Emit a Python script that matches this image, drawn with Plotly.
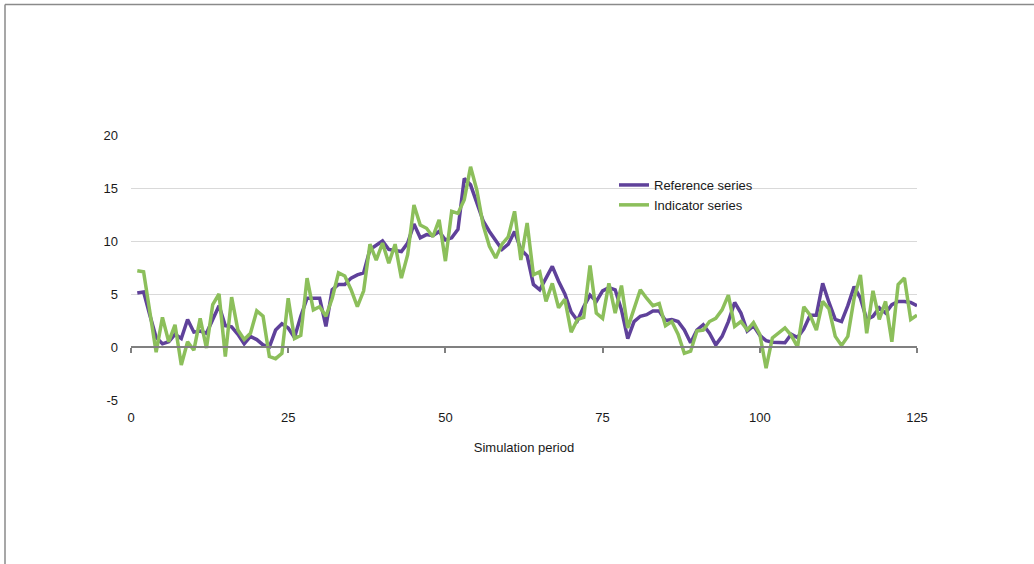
import plotly.graph_objects as go

periods = list(range(1, 126))

reference_series = [
    5.1, 5.2, 3.0, 0.9, 0.3, 0.5, 1.2, 0.8, 2.6, 1.4,
    1.5, 1.3, 2.6, 3.9, 2.0, 1.9, 1.2, 0.3, 1.0, 0.7,
    0.2, 0.0, 1.6, 2.2, 1.8, 0.9, 2.9, 4.6, 4.6, 4.6,
    1.95, 5.4, 5.9, 5.9, 6.5, 6.8, 7.0, 9.2, 9.6, 10.0,
    9.2, 9.1, 9.0, 9.8, 11.6, 10.3, 10.6, 10.5, 10.9, 10.1,
    10.3, 11.1, 15.9, 15.3, 13.6, 11.9, 10.9, 10.1, 9.2, 9.7,
    10.9, 9.2, 8.6, 5.9, 5.4, 6.5, 7.6, 6.2, 5.0, 3.3,
    2.5, 3.8, 4.9, 4.3, 5.3, 5.6, 5.4, 3.5, 0.8, 2.4,
    2.9, 3.05, 3.4, 3.4, 2.5, 2.6, 2.4, 1.6, 0.4, 1.6,
    2.1, 1.3, 0.2, 1.0, 2.4, 4.2, 3.2, 1.5, 2.0, 1.1,
    0.6, 0.45, 0.45, 0.4, 1.2, 0.9, 1.7, 3.0, 3.0, 6.0,
    4.2, 2.6, 2.4, 3.9, 5.7, 4.6, 2.6, 2.9, 3.7, 3.2,
    4.0, 4.3, 4.3, 4.2, 3.9,
]

indicator_series = [
    7.2, 7.1, 3.3, -0.5, 2.8, 0.5, 2.1, -1.7, 0.5, -0.3,
    2.7, -0.1, 4.0, 5.0, -0.9, 4.7, 1.6, 0.7, 1.3, 3.4,
    2.9, -0.9, -1.1, -0.6, 4.6, 0.8, 1.1, 6.5, 3.5, 3.8,
    2.9, 4.6, 7.0, 6.7, 5.4, 3.8, 5.3, 9.7, 8.2, 9.8,
    7.9, 9.7, 6.5, 8.7, 13.4, 11.5, 11.2, 10.4, 12.0, 8.1,
    12.8, 12.6, 13.9, 17.0, 14.8, 11.5, 9.5, 8.4, 9.7, 10.4,
    12.8, 8.2, 11.7, 6.8, 7.1, 4.3, 6.0, 3.7, 4.5, 1.4,
    2.6, 2.8, 7.7, 3.2, 2.7, 6.0, 3.2, 5.8, 1.8, 3.7,
    5.4, 4.6, 3.9, 4.1, 2.0, 2.4, 1.2, -0.6, -0.4, 1.5,
    1.6, 2.4, 2.7, 3.5, 4.9, 1.95, 2.4, 1.6, 2.3, 1.2,
    -2.0, 0.85, 1.3, 1.8, 1.1, 0.0, 3.8, 3.0, 1.6, 4.3,
    3.6, 1.0, 0.15, 1.0, 4.6, 6.8, 1.3, 5.3, 2.6, 4.3,
    0.5, 5.9, 6.5, 2.6, 3.0,
]

x_ticks = [0, 25, 50, 75, 100, 125]
y_ticks = [-5, 0, 5, 10, 15, 20]
y_tick_text = ["-5", "0", "5", "10", "15", "20"]

PURPLE = "#5f419a"
GREEN = "#8cbf5b"
FONT = "Liberation Sans"

fig = go.Figure()
fig.add_trace(go.Scatter(
    x=periods, y=reference_series, mode="lines", name="Reference series",
    line=dict(color=PURPLE, width=3.5), xaxis="x", yaxis="y",
))
fig.add_trace(go.Scatter(
    x=periods, y=indicator_series, mode="lines", name="Indicator series",
    line=dict(color=GREEN, width=3.5), xaxis="x2", yaxis="y",
))

# page body margin is removed via post_script, so pixel positions map 1:1
W, H = 1034, 564
ml, mr, mt, mb = 131, 117, 135, 164
pw, ph = W - ml - mr, H - mt - mb


def px_x(px):
    return (px - ml) / pw


def px_y(py):
    return (H - mb - py) / ph


fig.update_layout(
    width=W, height=H,
    margin=dict(l=ml, r=mr, t=mt, b=mb, pad=0),
    paper_bgcolor="white", plot_bgcolor="white",
    font=dict(family=FONT, size=13, color="#1a1a1a"),
    showlegend=True,
    hovermode=False,
    legend=dict(
        x=px_x(614), y=px_y(170), xanchor="left", yanchor="top",
        bgcolor="rgba(0,0,0,0)", font=dict(size=13, family=FONT),
        tracegroupgap=0, itemwidth=30,
    ),
    xaxis=dict(
        range=[0, 125], tickvals=x_ticks, showgrid=False, zeroline=False,
        showline=False, ticks="", ticklabelstandoff=8,
        title=dict(text="Simulation period", standoff=18, font=dict(size=13)),
    ),
    xaxis2=dict(
        range=[0, 125], tickvals=x_ticks, overlaying="x", anchor="free",
        position=(0 - y_ticks[0]) / (y_ticks[-1] - y_ticks[0]),
        showgrid=False, zeroline=False, showline=True, linecolor="#808080",
        linewidth=1.5, ticks="outside", ticklen=5, tickcolor="#808080",
        tickwidth=1.5, showticklabels=False,
    ),
    yaxis=dict(
        range=[-5, 20], tickvals=y_ticks, ticktext=y_tick_text,
        showgrid=True, gridcolor="#d9d9d9",
        gridwidth=1, zeroline=False, showline=False, ticks="",
        ticklabelstandoff=12,
    ),
)

# outer chart frame (partially visible in the reference crop)
fig.add_shape(
    type="line", xref="paper", yref="paper",
    x0=px_x(5), x1=px_x(W + 20), y0=px_y(4.5), y1=px_y(4.5),
    line=dict(color="#8a8a8a", width=1.5),
)
fig.add_shape(
    type="line", xref="paper", yref="paper",
    x0=px_x(5), x1=px_x(5), y0=px_y(4.5), y1=px_y(H + 20),
    line=dict(color="#8a8a8a", width=1.5),
)

fig.write_html(
    "out.html",
    config={"displayModeBar": False},
    post_script="document.body.style.margin='0px';document.body.style.padding='0px';",
)
